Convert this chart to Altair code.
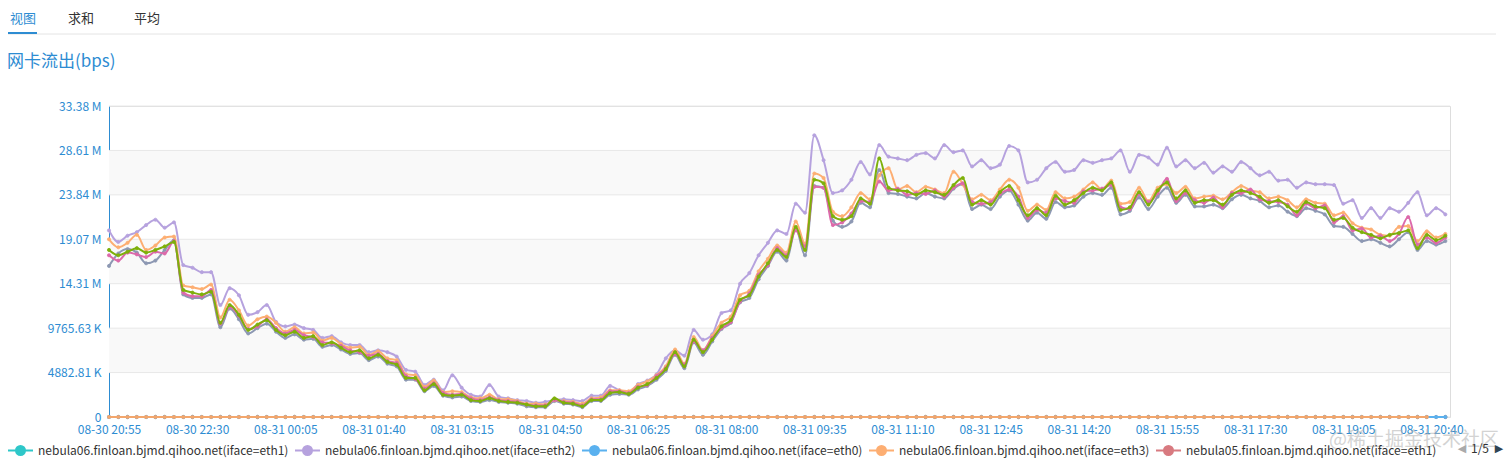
import json
import altair as alt
import pandas as pd

# ---------------- data ----------------
MINUTES = list(range(0, 1441, 10))  # sample times, minutes after 08-30 20:55

X_TICKS = [0, 95, 190, 285, 380, 475, 570, 665, 760, 855, 950, 1045, 1140, 1235, 1330, 1425]
X_LABELS = ["08-30 20:55", "08-30 22:30", "08-31 00:05", "08-31 01:40", "08-31 03:15",
            "08-31 04:50", "08-31 06:25", "08-31 08:00", "08-31 09:35", "08-31 11:10",
            "08-31 12:45", "08-31 14:20", "08-31 15:55", "08-31 17:30", "08-31 19:05",
            "08-31 20:40"]

Y_TICKS = [0, 5, 10, 15, 20, 25, 30, 35]          # millions of bits/s
Y_LABELS = ["0", "4882.81 K", "9765.63 K", "14.31 M", "19.07 M", "23.84 M", "28.61 M", "33.38 M"]

N06 = "nebula06.finloan.bjmd.qihoo.net"
N05 = "nebula05.finloan.bjmd.qihoo.net"
N04 = "nebula04.finloan.bjmd.qihoo.net"

PURPLE = [
    21.0, 19.7, 20.4, 20.8, 21.6, 22.2, 21.3, 21.9, 17.1, 16.8,
    16.3, 16.3, 12.6, 14.5, 13.7, 11.5, 11.8, 12.6, 10.7, 10.2,
    10.4, 10.0, 9.8, 8.9, 9.1, 8.4, 8.1, 8.1, 7.3, 7.5,
    7.3, 6.8, 5.3, 5.1, 3.6, 4.2, 3.0, 4.7, 3.3, 2.5,
    2.3, 3.6, 2.3, 2.1, 1.9, 1.8, 1.6, 1.7, 1.9, 2.0,
    1.9, 1.8, 2.4, 2.4, 3.5, 3.0, 2.8, 3.7, 4.1, 4.8,
    6.6, 7.5, 6.9, 9.8, 8.7, 9.3, 11.7, 12.0, 15.0, 16.2,
    18.2, 19.6, 21.0, 20.6, 24.0, 23.0, 31.7, 28.9, 25.2, 25.5,
    26.7, 28.7, 27.3, 30.6, 29.3, 29.1, 28.9, 29.5, 29.7, 29.1,
    30.6, 29.8, 30.0, 28.2, 28.9, 28.0, 28.4, 30.5, 30.0, 26.4,
    26.7, 28.0, 28.7, 27.6, 27.8, 28.9, 28.6, 28.9, 29.1, 30.0,
    27.6, 29.5, 29.2, 28.4, 30.3, 28.2, 28.9, 28.0, 28.6, 27.5,
    28.2, 27.6, 28.7, 28.0, 27.2, 27.6, 26.6, 26.7, 25.8, 26.4,
    26.2, 26.2, 26.1, 24.0, 24.4, 22.4, 23.5, 22.4, 23.5, 23.1,
    24.1, 25.3, 22.7, 23.5, 22.8]

ORANGE = [
    20.0, 19.1, 19.6, 20.5, 18.8, 19.3, 20.2, 20.3, 14.8, 14.6,
    14.4, 14.9, 11.2, 13.2, 12.0, 10.3, 11.0, 11.3, 10.6, 9.6,
    10.1, 9.4, 9.5, 8.6, 8.9, 8.2, 7.8, 7.9, 7.0, 7.4,
    6.6, 6.4, 4.8, 4.7, 3.4, 4.1, 2.8, 2.9, 2.8, 2.2,
    2.1, 2.5, 2.0, 2.0, 1.8, 1.5, 1.5, 1.4, 1.9, 1.8,
    1.7, 1.5, 2.1, 2.2, 3.0, 3.0, 2.9, 3.6, 4.0, 4.7,
    5.7, 7.6, 6.0, 9.0, 7.5, 9.1, 10.6, 11.3, 13.7, 14.2,
    16.4, 17.8, 19.3, 18.5, 22.0, 19.5, 27.4, 26.9, 23.1, 22.6,
    23.6, 25.2, 24.5, 27.2, 28.0, 25.6, 26.0, 25.3, 25.9, 25.6,
    25.2, 27.6, 26.2, 24.5, 25.0, 24.4, 25.6, 26.7, 25.8, 23.2,
    23.9, 23.3, 25.3, 24.6, 24.8, 25.6, 26.4, 25.6, 26.6, 24.0,
    24.2, 25.8, 24.3, 25.8, 26.2, 25.2, 25.9, 24.6, 24.8, 24.9,
    24.5, 25.3, 26.0, 25.5, 25.3, 24.6, 24.8, 24.4, 23.6, 24.5,
    24.1, 24.0, 22.7, 23.0, 21.8, 21.3, 21.1, 20.5, 20.4, 21.4,
    21.5, 19.8, 20.9, 20.2, 20.6]

PINK = [
    18.2, 17.6, 18.5, 18.3, 18.0, 18.6, 18.4, 19.8, 14.0, 13.6,
    13.6, 14.3, 10.5, 12.4, 11.4, 9.9, 10.2, 11.0, 10.0, 9.4,
    9.8, 9.2, 9.0, 8.4, 8.3, 8.0, 7.5, 7.3, 6.9, 7.1,
    6.3, 6.1, 4.6, 4.3, 3.2, 3.8, 2.7, 2.5, 2.6, 2.1,
    1.9, 2.2, 1.9, 1.8, 1.7, 1.4, 1.3, 1.3, 1.9, 1.7,
    1.6, 1.3, 2.0, 2.0, 2.9, 2.9, 2.7, 3.4, 3.6, 4.6,
    5.5, 7.1, 5.9, 8.5, 7.5, 8.9, 10.0, 10.7, 13.0, 13.9,
    16.0, 17.1, 19.0, 18.2, 21.0, 19.2, 25.9, 25.8, 21.6, 21.9,
    22.9, 24.3, 24.2, 26.5, 25.5, 25.7, 25.0, 25.2, 25.1, 25.5,
    24.8, 25.8, 26.3, 24.2, 24.0, 24.2, 25.1, 25.6, 24.8, 22.4,
    23.3, 23.0, 24.6, 24.3, 24.1, 25.4, 25.5, 25.7, 26.1, 23.6,
    23.4, 25.1, 24.2, 25.2, 26.8, 24.3, 25.2, 24.4, 24.1, 24.7,
    23.6, 25.2, 25.2, 25.6, 24.5, 24.3, 24.2, 23.9, 22.7, 24.0,
    23.5, 23.8, 21.9, 22.6, 21.0, 21.2, 20.2, 20.4, 19.8, 20.6,
    22.5, 19.4, 20.2, 19.6, 20.2]

GREY = [
    17.0, 18.4, 18.9, 18.5, 17.3, 17.6, 18.8, 19.9, 13.8, 13.4,
    13.4, 13.8, 10.1, 12.2, 11.0, 9.4, 10.0, 10.5, 9.6, 8.9,
    9.3, 8.7, 8.8, 7.9, 8.1, 7.6, 7.1, 7.2, 6.4, 6.8,
    6.0, 5.7, 4.2, 4.2, 2.9, 3.5, 2.4, 2.2, 2.3, 1.8,
    1.7, 1.9, 1.7, 1.6, 1.5, 1.2, 1.1, 1.1, 1.8, 1.5,
    1.4, 1.1, 1.8, 1.8, 2.5, 2.6, 2.5, 3.1, 3.5, 4.2,
    5.2, 7.0, 5.5, 8.4, 7.0, 8.5, 9.9, 10.6, 12.9, 13.4,
    15.5, 17.0, 18.6, 17.6, 21.2, 18.2, 26.0, 25.8, 22.1, 21.4,
    22.0, 24.1, 23.6, 27.8, 25.2, 25.1, 24.8, 24.6, 25.2, 24.8,
    24.6, 25.7, 26.2, 23.4, 23.9, 23.4, 24.8, 25.5, 23.9, 22.1,
    23.0, 22.3, 24.2, 23.6, 23.8, 24.8, 25.2, 25.0, 25.8, 22.8,
    23.2, 24.7, 23.4, 24.8, 25.8, 24.1, 25.0, 23.7, 23.7, 23.9,
    23.5, 24.5, 25.0, 24.6, 24.3, 23.6, 23.8, 23.1, 22.6, 23.5,
    23.2, 22.8, 21.5, 21.4, 20.6, 19.8, 20.0, 19.6, 19.2, 20.0,
    20.8, 18.8, 19.8, 19.4, 19.8]

GREEN = [
    18.8, 18.2, 18.6, 19.0, 18.5, 18.8, 19.2, 19.7, 14.3, 14.0,
    13.8, 14.1, 10.6, 12.6, 11.5, 9.8, 10.4, 10.9, 9.8, 9.2,
    9.6, 8.9, 9.1, 8.1, 8.4, 7.8, 7.3, 7.5, 6.6, 7.0,
    6.2, 5.9, 4.4, 4.4, 3.0, 3.7, 2.5, 2.4, 2.5, 1.9,
    1.8, 2.1, 1.8, 1.7, 1.6, 1.4, 1.2, 1.2, 2.1, 1.6,
    1.5, 1.2, 1.9, 1.9, 2.7, 2.8, 2.6, 3.3, 3.7, 4.4,
    5.4, 7.3, 5.7, 8.7, 7.3, 8.7, 10.2, 10.9, 13.2, 13.7,
    15.8, 17.3, 18.8, 18.0, 21.4, 18.8, 26.7, 26.3, 22.6, 22.2,
    22.6, 24.6, 24.0, 29.1, 25.8, 25.5, 25.4, 25.0, 25.5, 25.3,
    25.0, 26.1, 26.9, 23.9, 24.4, 23.9, 25.3, 26.0, 24.4, 22.7,
    23.5, 22.7, 24.9, 23.9, 24.4, 25.2, 25.8, 25.5, 26.4, 23.3,
    23.6, 25.3, 23.9, 25.5, 26.4, 24.6, 25.5, 24.1, 24.4, 24.4,
    23.9, 25.0, 25.5, 25.2, 24.8, 24.1, 24.4, 23.7, 23.1, 24.2,
    23.7, 23.5, 22.2, 22.4, 21.3, 20.8, 20.5, 20.1, 20.5, 20.7,
    21.0, 19.0, 20.5, 19.9, 20.4]

ZERO_FULL = [0.0] * len(MINUTES)
ZERO_SHORT = [0.0] * (len(MINUTES) - 2)

# (name, colour, values) in drawing order
SERIES = [
    (f"{N06}(iface=eth1)", "#2ec7c9", ZERO_FULL),
    (f"{N05}(iface=eth1)", "#d87a80", ZERO_FULL),
    (f"{N06}(iface=eth0)", "#5ab1ef", ZERO_FULL),
    (f"{N05}(iface=eth0)", "#f3a66c", ZERO_SHORT),
    (f"{N06}(iface=eth2)", "#b6a2de", PURPLE),
    (f"{N05}(iface=eth2)", "#8d98b3", GREY),
    (f"{N06}(iface=eth3)", "#fdae72", ORANGE),
    (f"{N05}(iface=eth3)", "#dc69aa", PINK),
    (f"{N04}(iface=eth2)", "#7eb00a", GREEN),
]
LEGEND_NAMES = [f"{N06}(iface=eth1)", f"{N06}(iface=eth2)", f"{N06}(iface=eth0)",
                f"{N06}(iface=eth3)", f"{N05}(iface=eth1)"]

rows = []
for name, _c, vals in SERIES:
    for t, v in zip(MINUTES, vals):
        rows.append({"t": t, "v": v, "series": name})
df = pd.DataFrame(rows)

bands_df = pd.DataFrame({"lo": Y_TICKS[1:-1:2], "hi": Y_TICKS[2::2]})
grid_df = pd.DataFrame({"v": Y_TICKS})

# ---------------- style ----------------
FONT = "Noto Sans CJK SC"
BLUE = "#2d8cd2"
names = [s[0] for s in SERIES]
colors = [s[1] for s in SERIES]

x_axis = alt.Axis(
    values=X_TICKS,
    labelExpr=f"{json.dumps(X_LABELS)}[indexof({json.dumps(X_TICKS)}, datum.value)]",
    grid=False, domain=False, ticks=False, labelColor=BLUE, labelFontSize=12,
    labelPadding=7, labelOverlap=False, labelFlush=False, labelBound=False, title=None,
    labelFont=FONT)
y_axis = alt.Axis(
    values=Y_TICKS,
    labelExpr=f"{json.dumps(Y_LABELS)}[indexof({json.dumps(Y_TICKS)}, datum.value)]",
    grid=False, domain=True, domainColor=BLUE, domainWidth=1, ticks=False,
    labelColor=BLUE, labelFontSize=12, labelPadding=8, title=None, labelFont=FONT)

xs = alt.Scale(domain=[0, 1445], nice=False, zero=False)
ys = alt.Scale(domain=[0, 35], nice=False)

PATH = ("M-1,0L-0.36,0M0.36,0L1,0M0.36,0A0.36,0.36,0,1,1,-0.36,0"
        "A0.36,0.36,0,1,1,0.36,0Z")
legend = alt.Legend(values=LEGEND_NAMES, orient="none", legendX=-102, legendY=331,
                    direction="horizontal", title=None, symbolType=PATH, symbolSize=625,
                    symbolStrokeWidth=2, labelFont=FONT, labelFontSize=12,
                    labelColor="#333333", labelOffset=4, columnPadding=2, padding=0,
                    labelLimit=0, symbolOpacity=1)
cscale = alt.Scale(domain=names, range=colors)

layers = []
layers.append(alt.Chart(bands_df).mark_rect(color="#f9f9f9").encode(
    y=alt.Y("lo:Q", scale=ys, axis=y_axis), y2="hi:Q"))
layers.append(alt.Chart(grid_df).mark_rule(color="#e8e8e8", strokeWidth=1).encode(
    y=alt.Y("v:Q", scale=ys, axis=y_axis)))

for name, _c, _v in SERIES:
    base = alt.Chart(df).transform_filter(alt.datum.series == name)
    layers.append(base.mark_line(strokeWidth=2, interpolate="monotone", strokeJoin="round").encode(
        x=alt.X("t:Q", scale=xs, axis=x_axis),
        y=alt.Y("v:Q", scale=ys, axis=y_axis),
        stroke=alt.Stroke("series:N", scale=cscale, legend=legend)))
    layers.append(base.mark_point(filled=True, size=10, opacity=1, strokeWidth=0.8).encode(
        x=alt.X("t:Q", scale=xs, axis=x_axis),
        y=alt.Y("v:Q", scale=ys, axis=y_axis),
        fill=alt.Fill("series:N", scale=cscale, legend=legend),
        stroke=alt.Stroke("series:N", scale=cscale, legend=legend)))

one = alt.Data(values=[{}])


def text(t, x, y, size, color, align="center", font=FONT, opacity=1.0):
    return alt.Chart(one).mark_text(text=t, fontSize=size, color=color, align=align,
                                    baseline="middle", font=font, opacity=opacity).encode(
        x=alt.value(x), y=alt.value(y))


def rule(x1, x2, y, color, width):
    return alt.Chart(one).mark_rule(color=color, strokeWidth=width).encode(
        x=alt.value(x1), x2=alt.value(x2), y=alt.value(y))


layers += [
    rule(-101, 1387, -72, "#e4e4e4", 1),
    rule(-101, -72, -73, BLUE, 2),
    text("视图", -86, -87, 13, BLUE),
    text("求和", -28, -87, 13, "#333333"),
    text("平均", 38, -87, 13, "#333333"),
    text("网卡流出(bps)", -102, -44, 17, BLUE, align="left"),
    text("@稀土掘金技术社区", 1305, 334, 19, "#b0b0b0", opacity=0.55),
    text("◀", 1353, 343, 11, "#aaaaaa", font="DejaVu Sans"),
    text("1/5", 1371, 343, 12, "#333333"),
    text("▶", 1390, 343, 11, "#2f4554", font="DejaVu Sans"),
]

chart = alt.layer(*layers).properties(
    width=1341, height=311,
    padding={"left": 101, "top": 98, "right": 54, "bottom": 45},
    autosize=alt.AutoSizeParams(type="none"),
).configure_view(stroke=None).configure(font=FONT)

chart.save("out.html", embed_options={"renderer": "svg", "actions": False})
